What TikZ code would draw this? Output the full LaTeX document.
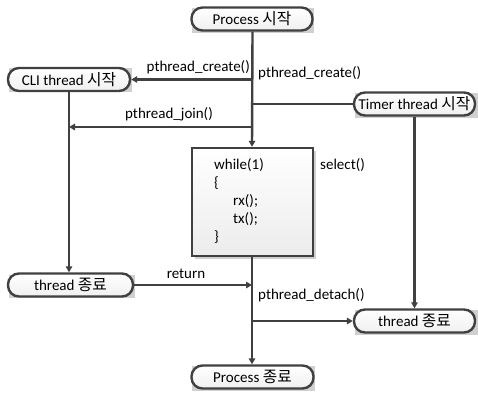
\documentclass[tikz,border=0pt]{standalone}
\usepackage{fontspec}
\setmainfont{Carlito}
\newfontfamily\kr[Scale=1.05]{Noto Sans CJK KR}
\usetikzlibrary{arrows.meta,shadings}
\definecolor{ln}{HTML}{404040}
\definecolor{shd}{HTML}{D0D0D0}
\begin{document}
\begin{tikzpicture}[x=1pt,y=-1pt,
  font=\fontsize{15}{18}\selectfont,
  pill/.style={draw=ln, line width=2.4pt, rounded corners=11pt,
    top color=white, bottom color=gray!12, minimum height=23pt,
    inner sep=0pt, text=black},
  conn/.style={draw=ln, line width=2.4pt},
  arr/.style={conn, -{Triangle[length=6pt,width=6.5pt]}},
  lbl/.style={inner sep=0pt, text=black}
]
\useasboundingbox (0,0) rectangle (478,392);
% shadows
\fill[shd] (192,8) rectangle (314,33);
\fill[shd] (9,68) rectangle (132,92);
\fill[shd] (355,93) rectangle (478,118);
\fill[shd] (9,275) rectangle (135,298);
\fill[shd] (355,310) rectangle (478,335);
\fill[shd] (192,366) rectangle (315,391);
\fill[shd] (195,151) rectangle (316,259);
% nodes
\node[pill, minimum width=121pt] (p1) at (252,19) {Process {\kr 시작}};
\node[pill, minimum width=122pt] (cli) at (69,79.5) {CLI thread {\kr 시작}};
\node[pill, minimum width=121pt] (tim) at (414.5,104) {Timer thread {\kr 시작}};
\node[draw=ln, line width=2.4pt, top color=white, bottom color=gray!15,
  minimum width=121pt, minimum height=108pt, inner sep=0pt] (box) at (252.5,202) {};
\node[pill, minimum width=125pt] (t1) at (70.5,285) {thread {\kr 종료}};
\node[pill, minimum width=121pt] (t2) at (414.5,321) {thread {\kr 종료}};
\node[pill, minimum width=122pt] (p2) at (252.5,377) {Process {\kr 종료}};
% box text
\node[lbl, anchor=west] (w1) at (214,165) {while(1)};
\node[lbl, anchor=west] (w2) at (214,183) {\{};
\node[lbl, anchor=west] (w3) at (233,201) {rx();};
\node[lbl, anchor=west] (w4) at (233,219) {tx();};
\node[lbl, anchor=west] (w5) at (214,237) {\}};
% coordinates on main line
\coordinate (m1) at (252,79.5);
\coordinate (m2) at (252,104);
\coordinate (m3) at (252,127);
\coordinate (j) at (69,127);
\coordinate (m4) at (252,285);
\coordinate (m5) at (252,321);
% connectors
\draw[arr] (p1.south -| box.north) -- (box.north -| p1.south);
\draw[arr] (m1) -- (cli.east);
\draw[conn] (m2) -- (tim.west);
\draw[arr] (m3) -- (j);
\draw[arr] (cli.south) -- (t1.north -| cli.south);
\draw[arr] (t1.east) -- (m4);
\draw[arr] (box.south -| p1.south) -- (p2.north -| p1.south);
\draw[arr] (m5) -- (t2.west);
\draw[arr] (tim.south) -- (t2.north);
% labels
\node[lbl, anchor=east] (l1) at (250,67) {pthread\_create()};
\node[lbl, anchor=west] (l2) at (258,73) {pthread\_create()};
\node[lbl] (l3) at (169,114) {pthread\_join()};
\node[lbl, anchor=west] (l4) at (320,165) {select()};
\node[lbl] (l5) at (186,274) {return};
\node[lbl, anchor=west] (l6) at (258,295) {pthread\_detach()};
\end{tikzpicture}
\end{document}
